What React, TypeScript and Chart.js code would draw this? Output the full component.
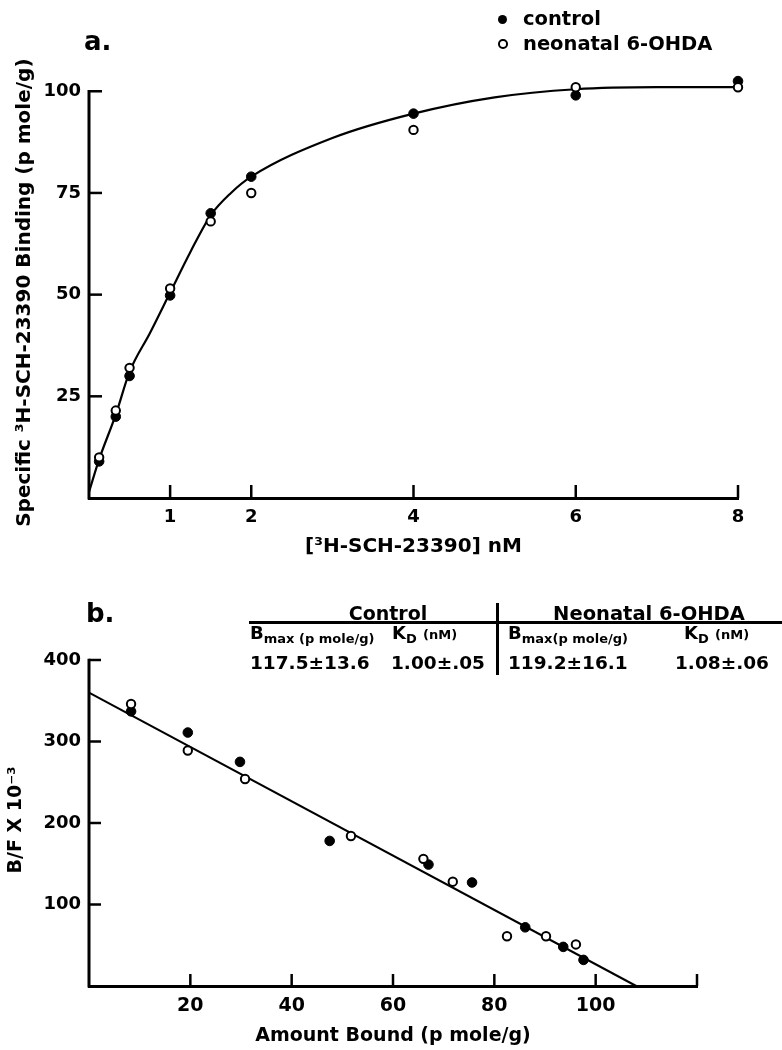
import React, { useEffect, useRef } from "react";
import { Chart, registerables } from "chart.js";
Chart.register(...registerables);

// ---------- Panel a: saturation ----------
const concA = [0.125, 0.33, 0.5, 1, 1.5, 2, 4, 6, 8];
const controlA = [9, 20, 30, 49.8, 70, 79, 94.5, 99, 102.5];
const ohdaA = [10, 21.5, 32, 51.5, 68, 75, 90.5, 101, 101];
const curveXA = [0, 0.125, 0.33, 0.5, 0.75, 1, 1.25, 1.5, 1.75, 2, 3, 4, 5, 6, 7, 8];
const curveYA = [1.5, 9.5, 20.5, 31, 40.5, 50.5, 60.5, 69.5, 75, 79, 88.5, 94.5, 98.5, 100.5, 101, 101];
const xTicksA = [1, 2, 4, 6, 8];
const yTicksA = [25, 50, 75, 100];

// ---------- Panel b: Scatchard ----------
const boundControl = [8.3, 19.5, 29.8, 47.5, 67, 75.6, 86.1, 93.6, 97.6];
const bfControl = [337, 311, 275, 178, 149, 127, 72, 48, 32];
const boundOhda = [8.3, 19.5, 30.8, 51.7, 66, 71.8, 82.5, 90.2, 96.1];
const bfOhda = [346, 289, 254, 184, 156, 128, 61, 61, 51];
const fitXB = [0, 108];
const fitYB = [360, 0];
const xTicksB = [20, 40, 60, 80, 100, 120];
const xLabelsB = ["20", "40", "60", "80", "100", ""];
const yTicksB = [100, 200, 300, 400];

const FAM = "DejaVu Sans";
const pts = (xs: number[], ys: number[]) => xs.map((x, i) => ({ x, y: ys[i] }));

// inward tick marks + y axis line ending at the top tick
const innerTicks = {
  id: "innerTicks",
  afterDatasetsDraw(chart: any, _a: any, opts: any) {
    const { ctx, chartArea, scales } = chart;
    const len = opts.len || 12;
    ctx.save();
    ctx.strokeStyle = "#000";
    ctx.lineWidth = 2.5;
    scales.x.ticks.forEach((t: any) => {
      const p = scales.x.getPixelForValue(t.value);
      ctx.beginPath();
      ctx.moveTo(p, chartArea.bottom);
      ctx.lineTo(p, chartArea.bottom - len);
      ctx.stroke();
    });
    let topPix = chartArea.bottom;
    scales.y.ticks.forEach((t: any) => {
      const p = scales.y.getPixelForValue(t.value);
      topPix = Math.min(topPix, p);
      ctx.beginPath();
      ctx.moveTo(chartArea.left, p);
      ctx.lineTo(chartArea.left + len, p);
      ctx.stroke();
    });
    ctx.lineWidth = 3;
    ctx.beginPath();
    ctx.moveTo(chartArea.left, chartArea.bottom + 1.5);
    ctx.lineTo(chartArea.left, topPix - 1.25);
    ctx.stroke();
    ctx.restore();
  },
};

const yTitle = {
  id: "yTitle",
  afterDraw(chart: any, _a: any, opts: any) {
    const { ctx, chartArea, scales } = chart;
    const ticks = scales.y.ticks;
    const top = scales.y.getPixelForValue(ticks[ticks.length - 1].value);
    ctx.save();
    ctx.translate(opts.x, (top + chartArea.bottom) / 2 + (opts.dy || 0));
    ctx.rotate(-Math.PI / 2);
    ctx.font = `bold ${opts.size}px "${FAM}"`;
    ctx.fillStyle = "#000";
    ctx.textAlign = "center";
    ctx.textBaseline = "middle";
    ctx.fillText(opts.text, 0, 0);
    ctx.restore();
  },
};

function makeOptions(cfg: any) {
  const tickFont = (s: number) => ({ family: FAM, size: s, weight: "bold" as const });
  return {
    responsive: false,
    animation: false as const,
    layout: { padding: { left: 0, right: cfg.padRight, top: cfg.padTop, bottom: 0 } },
    plugins: {
      legend: { display: false },
      tooltip: { enabled: false },
      innerTicks: { len: cfg.tickLen },
      yTitle: { text: cfg.yTitle, x: cfg.yTitleX, size: cfg.yTitleSize, dy: cfg.yTitleDy },
    },
    scales: {
      x: {
        type: "linear",
        min: cfg.xMin,
        max: cfg.xMax,
        grid: { display: false, drawTicks: false },
        border: { display: true, width: 3, color: "#000" },
        afterBuildTicks: (s: any) => {
          s.ticks = cfg.xTicks.map((v: number) => ({ value: v }));
        },
        afterFit: (s: any) => {
          s.height = cfg.xHeight;
        },
        ticks: {
          autoSkip: false,
          maxRotation: 0,
          padding: cfg.xTickPad,
          color: "#000",
          font: tickFont(cfg.xTickSize),
          callback: cfg.xCallback,
        },
        title: {
          display: true,
          text: cfg.xTitle,
          color: "#000",
          font: tickFont(cfg.xTitleSize),
          padding: { top: 0, bottom: cfg.xTitlePadBottom },
        },
      },
      y: {
        type: "linear",
        min: cfg.yMin,
        max: cfg.yMax,
        grid: { display: false, drawTicks: false },
        border: { display: false },
        afterBuildTicks: (s: any) => {
          s.ticks = cfg.yTicks.map((v: number) => ({ value: v }));
        },
        afterFit: (s: any) => {
          s.width = 89;
        },
        ticks: {
          autoSkip: false,
          padding: 8,
          color: "#000",
          font: tickFont(cfg.yTickSize),
          callback: (v: any) => String(v),
        },
      },
    },
  };
}

const filledStyle = {
  showLine: false,
  pointRadius: 4.8,
  pointBackgroundColor: "#000",
  pointBorderColor: "#000",
  pointBorderWidth: 1,
  clip: false as const,
};
const openStyle = {
  showLine: false,
  pointRadius: 4.2,
  pointBackgroundColor: "#fff",
  pointBorderColor: "#000",
  pointBorderWidth: 2,
  clip: false as const,
};

export default function App() {
  const refA = useRef<HTMLCanvasElement>(null);
  const refB = useRef<HTMLCanvasElement>(null);

  useEffect(() => {
    const chartA = new Chart(refA.current as HTMLCanvasElement, {
      type: "scatter",
      data: {
        datasets: [
          { label: "neonatal 6-OHDA", data: pts(concA, ohdaA), ...openStyle },
          { label: "control", data: pts(concA, controlA), ...filledStyle },
          {
            label: "fit",
            data: pts(curveXA, curveYA),
            showLine: true,
            pointRadius: 0,
            borderColor: "#000",
            borderWidth: 2.2,
            cubicInterpolationMode: "monotone",
            clip: false,
          },
        ],
      } as any,
      options: makeOptions({
        padRight: 44,
        padTop: 75,
        tickLen: 13,
        xMin: 0,
        xMax: 8,
        yMin: 0,
        yMax: 104,
        xTicks: xTicksA,
        yTicks: yTicksA,
        xHeight: 72,
        xTickPad: 9,
        xTickSize: 18,
        yTickSize: 18,
        xCallback: (v: any) => String(v),
        xTitle: "[³H-SCH-23390] nM",
        xTitleSize: 20,
        xTitlePadBottom: 11,
        yTitle: "Specific ³H-SCH-23390 Binding (p mole/g)",
        yTitleX: 25,
        yTitleSize: 20,
        yTitleDy: -2,
      }) as any,
      plugins: [innerTicks, yTitle],
    });

    const chartB = new Chart(refB.current as HTMLCanvasElement, {
      type: "scatter",
      data: {
        datasets: [
          { label: "neonatal 6-OHDA", data: pts(boundOhda, bfOhda), ...openStyle },
          { label: "control", data: pts(boundControl, bfControl), ...filledStyle },
          {
            label: "fit",
            data: pts(fitXB, fitYB),
            showLine: true,
            pointRadius: 0,
            borderColor: "#000",
            borderWidth: 2,
            clip: false,
          },
        ],
      } as any,
      options: makeOptions({
        padRight: 85,
        padTop: 90,
        tickLen: 12,
        xMin: 0,
        xMax: 120,
        yMin: 0,
        yMax: 400,
        xTicks: xTicksB,
        yTicks: yTicksB,
        xHeight: 64,
        xTickPad: 9,
        xTickSize: 19,
        yTickSize: 18,
        xCallback: (v: any) => {
          const i = xTicksB.indexOf(Number(v));
          return i >= 0 ? xLabelsB[i] : "";
        },
        xTitle: "Amount Bound (p mole/g)",
        xTitleSize: 19,
        xTitlePadBottom: 3,
        yTitle: "B/F X 10⁻³",
        yTitleX: 16,
        yTitleSize: 19,
        yTitleDy: -3,
      }) as any,
      plugins: [innerTicks, yTitle],
    });

    return () => {
      chartA.destroy();
      chartB.destroy();
    };
  }, []);

  const txt = (size: number, extra: any = {}) => ({
    position: "absolute" as const,
    fontFamily: FAM,
    fontWeight: "bold" as const,
    fontSize: size,
    lineHeight: 1,
    color: "#000",
    whiteSpace: "nowrap" as const,
    ...extra,
  });
  // place by baseline: top = baseline - 0.846*size
  const at = (left: number, baseline: number, size: number, extra: any = {}) =>
    txt(size, { left, top: baseline - 0.846 * size, ...extra });
  const sub = { fontSize: 13, verticalAlign: "-4px" };

  return (
    <div style={{ position: "absolute", left: 0, top: 0, width: 782, height: 1050, background: "#fff", overflow: "hidden" }}>
      <canvas ref={refA} width={782} height={570} style={{ position: "absolute", left: 0, top: 0 }} />
      <canvas ref={refB} width={782} height={480} style={{ position: "absolute", left: 0, top: 570 }} />

      {/* panel a labels */}
      <div style={at(84, 50, 26)}>a.</div>
      <div style={{ position: "absolute", left: 498, top: 14.5, width: 9, height: 9, borderRadius: "50%", background: "#000" }} />
      <div style={{ position: "absolute", left: 498, top: 39, width: 5.5, height: 5.5, borderRadius: "50%", border: "2px solid #000", background: "#fff" }} />
      <div style={at(523, 25, 19.5)}>control</div>
      <div style={at(523, 50, 19.5)}>neonatal 6-OHDA</div>

      {/* panel b labels */}
      <div style={at(86, 622, 26)}>b.</div>
      <div style={{ position: "absolute", left: 249, top: 621, width: 533, height: 2.5, background: "#000" }} />
      <div style={{ position: "absolute", left: 496, top: 603, width: 2.5, height: 72, background: "#000" }} />
      <div style={at(290, 620, 19, { width: 196, textAlign: "center" })}>Control</div>
      <div style={at(520, 620, 19.5, { width: 258, textAlign: "center" })}>Neonatal 6-OHDA</div>

      <div style={at(250, 639, 18)}>
        B<span style={sub}>max (p mole/g)</span>
      </div>
      <div style={at(392, 639, 18)}>
        K<span style={sub}>D</span> <span style={{ fontSize: 13 }}>(nM)</span>
      </div>
      <div style={at(508, 639, 18)}>
        B<span style={sub}>max(p mole/g)</span>
      </div>
      <div style={at(684, 639, 18)}>
        K<span style={sub}>D</span> <span style={{ fontSize: 13 }}>(nM)</span>
      </div>

      <div style={at(250, 670, 18.5)}>117.5±13.6</div>
      <div style={at(391, 670, 18.5)}>1.00±.05</div>
      <div style={at(508, 670, 18.5)}>119.2±16.1</div>
      <div style={at(675, 670, 18.5)}>1.08±.06</div>
    </div>
  );
}
